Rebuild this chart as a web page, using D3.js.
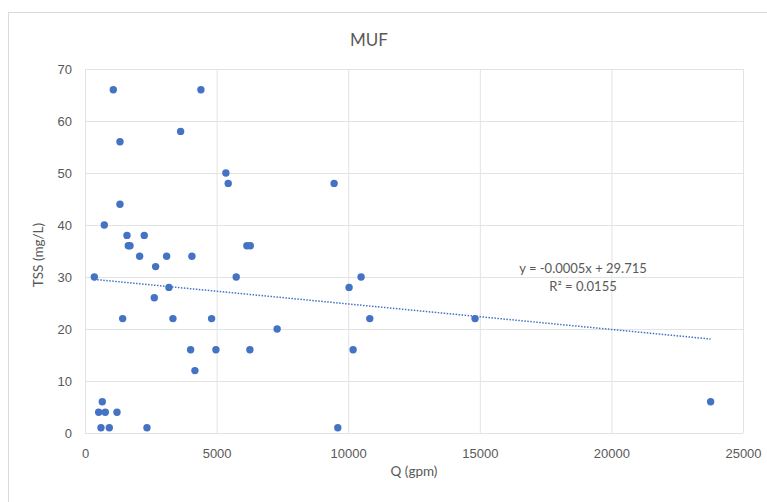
<!DOCTYPE html>
<html>
<head>
<meta charset="utf-8">
<style>
  body { margin: 0; background: #fff; font-family: Lato, "Open Sans", sans-serif; }
  .tick text { font-size: 13px; fill: #595959; }
  .grid line { stroke: #e3e3e3; stroke-width: 1; }
  .label { fill: #595959; }
</style>
</head>
<body>
<div id="chart"></div>
<script src="https://cdnjs.cloudflare.com/ajax/libs/d3/7.8.5/d3.min.js"></script>
<script>
// flow Q (gpm) and TSS (mg/L)
const qValues = [1075, 4404, 1329, 3633, 5353, 5441, 9465, 1329, 733, 1595,
  2251, 1645, 1710, 6150, 6280, 2076, 3101, 4062, 2683, 354,
  5745, 10490, 3189, 10034, 2633, 1431, 3341, 4810, 10820, 14820,
  7300, 4013, 4974, 6265, 10186, 4176, 657, 23770, 520, 771,
  1215, 607, 923, 2354, 9605];
const tssValues = [66, 66, 56, 58, 50, 48, 48, 44, 40, 38,
  38, 36, 36, 36, 36, 34, 34, 34, 32, 30,
  30, 30, 28, 28, 26, 22, 22, 22, 22, 22,
  20, 16, 16, 16, 16, 12, 6, 6, 4, 4,
  4, 1, 1, 1, 1];
const xTicks = [0, 5000, 10000, 15000, 20000, 25000];
const yTicks = [0, 10, 20, 30, 40, 50, 60, 70];
const trendSlope = -0.00049;
const trendIntercept = 29.715;
const trendText = ["y = -0.0005x + 29.715", "R² = 0.0155"];

const W = 767, H = 502;
const margin = { top: 69, right: 24, bottom: 69, left: 85 };
const width = W - margin.left - margin.right;
const height = H - margin.top - margin.bottom;

const svg = d3.select("#chart").append("svg")
  .attr("width", W).attr("height", H);

// chart frame (only top/left edges visible in the crop)
svg.append("rect")
  .attr("x", 8.5).attr("y", 12.5)
  .attr("width", W + 10).attr("height", H + 10)
  .attr("fill", "none").attr("stroke", "#d9d9d9");

const g = svg.append("g").attr("transform", `translate(${margin.left},${margin.top})`);

const x = d3.scaleLinear().domain([0, 25000]).range([0, width]);
const y = d3.scaleLinear().domain([0, 70]).range([height, 0]);

// gridlines
g.append("g").attr("class", "grid")
  .selectAll("line").data(yTicks).enter().append("line")
  .attr("x1", 0).attr("x2", width)
  .attr("y1", d => y(d) + 0.5).attr("y2", d => y(d) + 0.5);
g.append("g").attr("class", "grid")
  .selectAll("line").data(xTicks).enter().append("line")
  .attr("y1", 0).attr("y2", height)
  .attr("x1", d => x(d) + 0.5).attr("x2", d => x(d) + 0.5);

// axes (labels only)
const xAxis = g.append("g")
  .attr("transform", `translate(0,${height})`)
  .call(d3.axisBottom(x).tickValues(xTicks).tickFormat(d3.format("d")).tickSize(0).tickPadding(16));
const yAxis = g.append("g")
  .call(d3.axisLeft(y).tickValues(yTicks).tickSize(0).tickPadding(13));
xAxis.select(".domain").remove();
yAxis.select(".domain").remove();

// trendline
const xMin = d3.min(qValues), xMax = d3.max(qValues);
g.append("line")
  .attr("x1", x(xMin)).attr("y1", y(trendSlope * xMin + trendIntercept))
  .attr("x2", x(xMax)).attr("y2", y(trendSlope * xMax + trendIntercept))
  .attr("stroke", "#4472c4").attr("stroke-width", 1.5)
  .attr("stroke-dasharray", "1.5 1.5");

// points
g.selectAll("circle").data(qValues).enter().append("circle")
  .attr("cx", (d, i) => x(d))
  .attr("cy", (d, i) => y(tssValues[i]))
  .attr("r", 3.7)
  .attr("fill", "#4472c4");

// equation label
g.append("text").attr("class", "label")
  .attr("x", 498).attr("y", 204)
  .attr("text-anchor", "middle").style("font-size", "13px")
  .selectAll("tspan").data(trendText).enter().append("tspan")
  .attr("x", 498).attr("dy", (d, i) => i === 0 ? 0 : 18)
  .text(d => d);

// title
svg.append("text").attr("class", "label")
  .attr("x", 369).attr("y", 46)
  .attr("text-anchor", "middle").style("font-size", "17px")
  .text("MUF");

// axis titles
svg.append("text").attr("class", "label")
  .attr("transform", `translate(43,${margin.top + height / 2 + 4}) rotate(-90)`)
  .attr("text-anchor", "middle").style("font-size", "13.5px")
  .text("TSS (mg/L)");
svg.append("text").attr("class", "label")
  .attr("x", 414).attr("y", 476)
  .attr("text-anchor", "middle").style("font-size", "13.5px")
  .text("Q (gpm)");
</script>
</body>
</html>
